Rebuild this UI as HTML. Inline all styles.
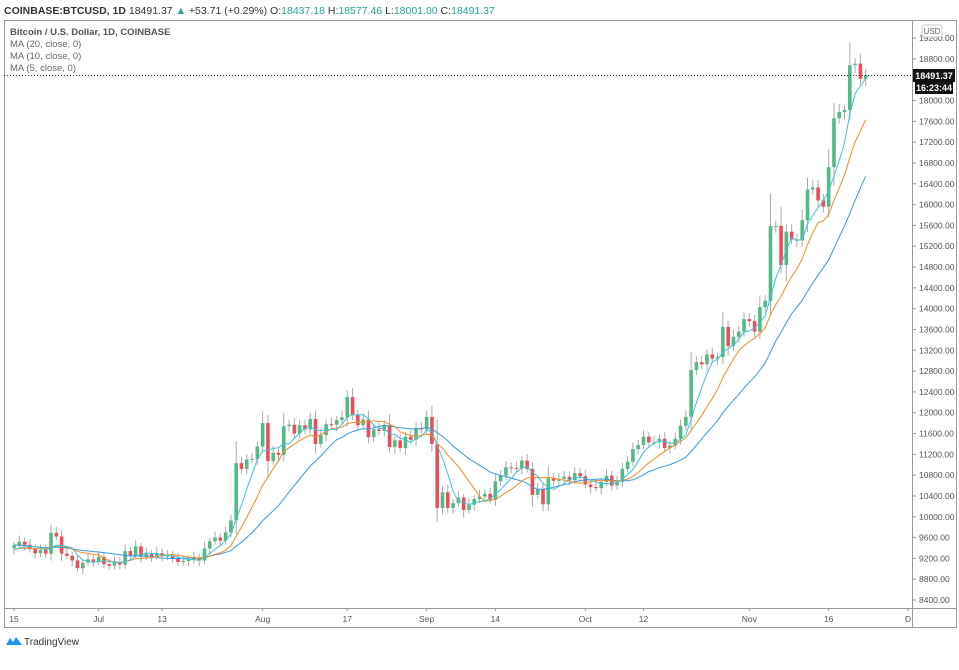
<!DOCTYPE html>
<html><head><meta charset="utf-8"><style>
body{margin:0;background:#fff;width:959px;height:665px;overflow:hidden;font-family:"Liberation Sans",sans-serif}
</style></head><body>
<svg id="s" width="959" height="665" xmlns="http://www.w3.org/2000/svg" font-family="Liberation Sans, sans-serif">
<rect x="0" y="0" width="959" height="665" fill="#fff"/>
<text x="4" y="14" font-size="10.5" fill="#333"><tspan font-weight="bold">COINBASE:BTCUSD, 1D</tspan> 18491.37 <tspan fill="#26a69a">▲</tspan> +53.71 (+0.29%) O:<tspan fill="#26a69a">18437.18</tspan> H:<tspan fill="#26a69a">18577.46</tspan> L:<tspan fill="#26a69a">18001.00</tspan> C:<tspan fill="#26a69a">18491.37</tspan></text>
<rect x="4.5" y="20.5" width="952" height="607" fill="none" stroke="#999"/>
<line x1="4" y1="608.5" x2="957" y2="608.5" stroke="#999"/>
<line x1="912.5" y1="20" x2="912.5" y2="628" stroke="#999"/>
<text x="10" y="35" font-size="9.5" fill="#555" font-weight="bold">Bitcoin / U.S. Dollar, 1D, COINBASE</text>
<text x="10" y="47" font-size="9.5" fill="#666">MA (20, close, 0)</text>
<text x="10" y="59" font-size="9.5" fill="#666">MA (10, close, 0)</text>
<text x="10" y="71" font-size="9.5" fill="#666">MA (5, close, 0)</text>
<g id="g"></g>
<line x1="4" y1="75.5" x2="912" y2="75.5" stroke="#333" stroke-dasharray="1,2"/>
<rect x="913" y="69" width="42" height="13" fill="#111"/>
<text x="934" y="79" font-size="9" fill="#fff" text-anchor="middle" font-weight="bold">18491.37</text>
<rect x="915" y="82" width="38" height="12" fill="#111"/>
<text x="934" y="91" font-size="9" fill="#fff" text-anchor="middle" font-weight="bold">16:23:44</text>
<rect x="922" y="25" width="20" height="12" rx="2" fill="#fff" stroke="#ccc"/>
<text x="932" y="34" font-size="8" fill="#666" text-anchor="middle">USD</text>
<path d="M6 645 L10 638 L13 642 L16 637 L22 645 Z" fill="#2196f3"/>
<text x="24" y="645" font-size="10" fill="#333">TradingView</text>
</svg>
<script>
var C=[9450,9520,9460,9380,9300,9360,9290,9690,9620,9290,9250,9160,9010,9120,9180,9140,9230,9090,9060,9130,9080,9340,9250,9430,9230,9290,9240,9300,9240,9250,9200,9130,9150,9170,9210,9160,9390,9530,9600,9540,9700,9930,11030,10920,11100,11110,11350,11800,11070,11230,11190,11740,11770,11600,11760,11680,11880,11400,11570,11780,11770,11860,11910,12300,11960,11760,11870,11530,11680,11650,11760,11340,11470,11320,11540,11480,11710,11680,11920,11400,10170,10470,10170,10260,10370,10130,10230,10340,10390,10440,10330,10680,10790,10950,10940,10930,11080,10920,10420,10530,10240,10740,10690,10730,10770,10700,10840,10780,10620,10570,10550,10670,10790,10600,10670,10920,11060,11300,11380,11540,11430,11430,11500,11320,11370,11500,11750,11920,12820,12970,12930,13120,13040,13070,13650,13280,13460,13560,13800,13760,13560,14030,14150,15590,15590,14840,15480,15330,15310,15700,16290,16330,16080,15960,16720,17660,17780,17820,18680,18710,18420,18491];
var prev=[9600,9620,9580,9560,9550,9520,9500,9480,9460,9440,9430,9420,9400,9380,9370,9360,9350,9340,9330];
function Y(p){return 600-(p-8400)/400*20.81}
function X(i){return 14+i*5.29}
var s="",ns="http://www.w3.org/2000/svg";
// grid ticks & labels
for(var p=8400;p<=19200;p+=400){var y=Y(p);s+='<line x1="912" y1="'+y+'" x2="916" y2="'+y+'" stroke="#999"/><text x="919" y="'+(y+3)+'" font-size="8.5" fill="#555">'+p+'.00</text>';}
var T=[["15",0],["Jul",16],["13",28],["Aug",47],["17",63],["Sep",78],["14",91],["Oct",108],["12",119],["Nov",139],["16",154],["D",169]];
T.forEach(function(t){var x=X(t[1]);s+='<line x1="'+x+'" y1="608" x2="'+x+'" y2="611" stroke="#999"/><text x="'+x+'" y="622" font-size="8.5" fill="#555" text-anchor="middle">'+t[0]+'</text>';});
var all=prev.concat(C),o=prev.length;
function ma(n,col){var d="";for(var i=0;i<C.length;i++){var k=i+o,sum=0,c=0;for(var j=k-n+1;j<=k;j++){if(j>=0){sum+=all[j];c++;}}var v=sum/c;d+=(i?"L":"M")+X(i).toFixed(1)+" "+Y(v).toFixed(1);}s+='<path d="'+d+'" fill="none" stroke="'+col+'" stroke-width="1"/>';}
for(var i=0;i<C.length;i++){var op=i?C[i-1]:9400,cl=C[i],up=cl>=op,col=up?"#53b987":"#eb4d5c";var r=Math.abs(Math.sin(i*1.7))*0.6+0.3;var hi=Math.max(op,cl)+Math.max(60,Math.abs(cl-op)*0.3)*r*1.5+cl*0.004,lo=Math.min(op,cl)-Math.max(60,Math.abs(cl-op)*0.3)*(1.2-r)*1.5-cl*0.004;var x=X(i);s+='<line x1="'+x+'" y1="'+Y(hi)+'" x2="'+x+'" y2="'+Y(lo)+'" stroke="#aaa" stroke-width="1"/>';var y1=Y(Math.max(op,cl)),h=Math.max(1,Y(Math.min(op,cl))-y1);s+='<rect x="'+(x-1.8)+'" y="'+y1+'" width="3.6" height="'+h+'" fill="'+col+'"/>';}
ma(20,"#3a9bd9");ma(10,"#f28c28");ma(5,"#3cc4d6");
document.getElementById("g").innerHTML=s;
</script>
</body></html>
